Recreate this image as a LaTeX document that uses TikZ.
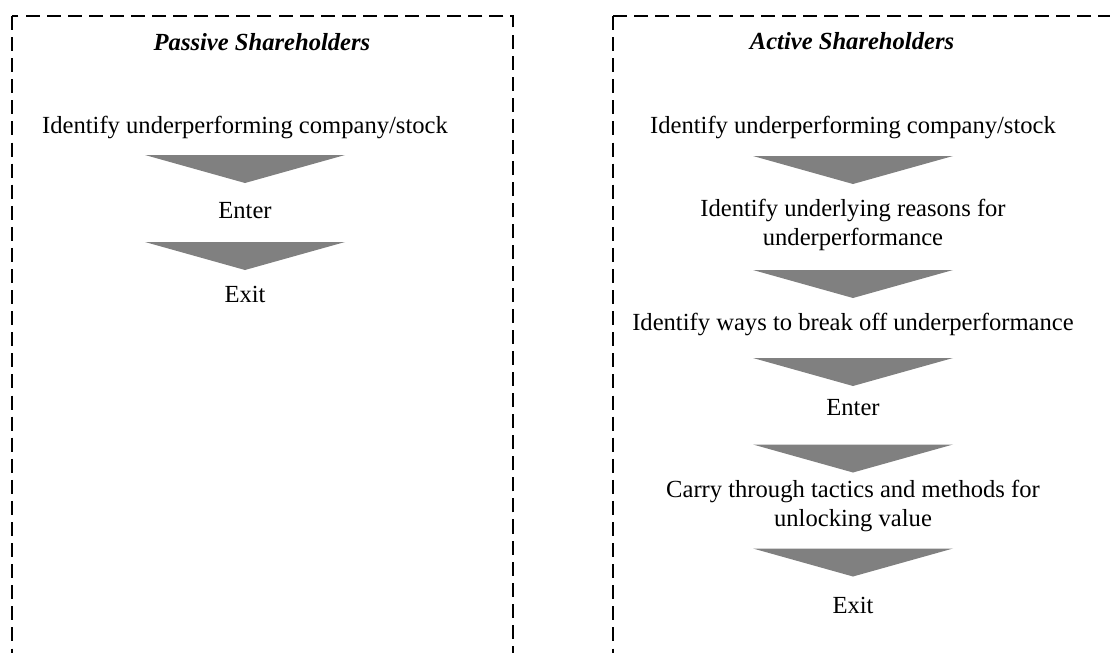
\documentclass[tikz,border=0pt]{standalone}
\usepackage{fontspec}
\setmainfont{Liberation Serif}
\usetikzlibrary{positioning}

\tikzset{
  panel/.style={draw, line width=0.7pt, dash pattern=on 8pt off 4pt},
  paneltitle/.style={font=\fontsize{14}{16}\selectfont\bfseries\itshape, inner sep=0pt},
  stage/.style={font=\fontsize{14}{16}\selectfont, align=center, inner sep=0pt},
  chevron/.style={fill=gray, draw=none}
}

\begin{document}
\begin{tikzpicture}[x=0.02cm,y=-0.02cm]
\useasboundingbox (0,0) rectangle (1110,653);
\clip (0,0) rectangle (1110,653);
% dashed frames
\draw[panel] (12,16) rectangle (513,720);
\draw[panel] (613,16) rectangle (1160,720);

% passive side
\node[paneltitle] (ptitle) at (262,42) {Passive Shareholders};
\node[stage] (pident) at (245,127) {Identify underperforming company/stock};
\node[stage] (penter) at (245,210.5) {Enter};
\node[stage] (pexit) at (245,294.5) {Exit};
\foreach \y in {169,256}
\fill[chevron] (145,\y-14) -- (345,\y-14) -- (245,\y+14) -- cycle;

% active side
\node[paneltitle] (atitle) at (852,41) {Active Shareholders};
\node[stage] (aident) at (853,127) {Identify underperforming company/stock};
\node[stage] (areason) at (853,225) {Identify underlying reasons for\\underperformance};
\node[stage] (aways) at (853,324) {Identify ways to break off underperformance};
\node[stage] (aenter) at (853,407.5) {Enter};
\node[stage] (atactic) at (853,506) {Carry through tactics and methods for\\unlocking value};
\node[stage] (aexit) at (853,605) {Exit};
\foreach \y in {170,284,372,458.5,562.5}
\fill[chevron] (753,\y-14) -- (953,\y-14) -- (853,\y+14) -- cycle;
\end{tikzpicture}
\end{document}
